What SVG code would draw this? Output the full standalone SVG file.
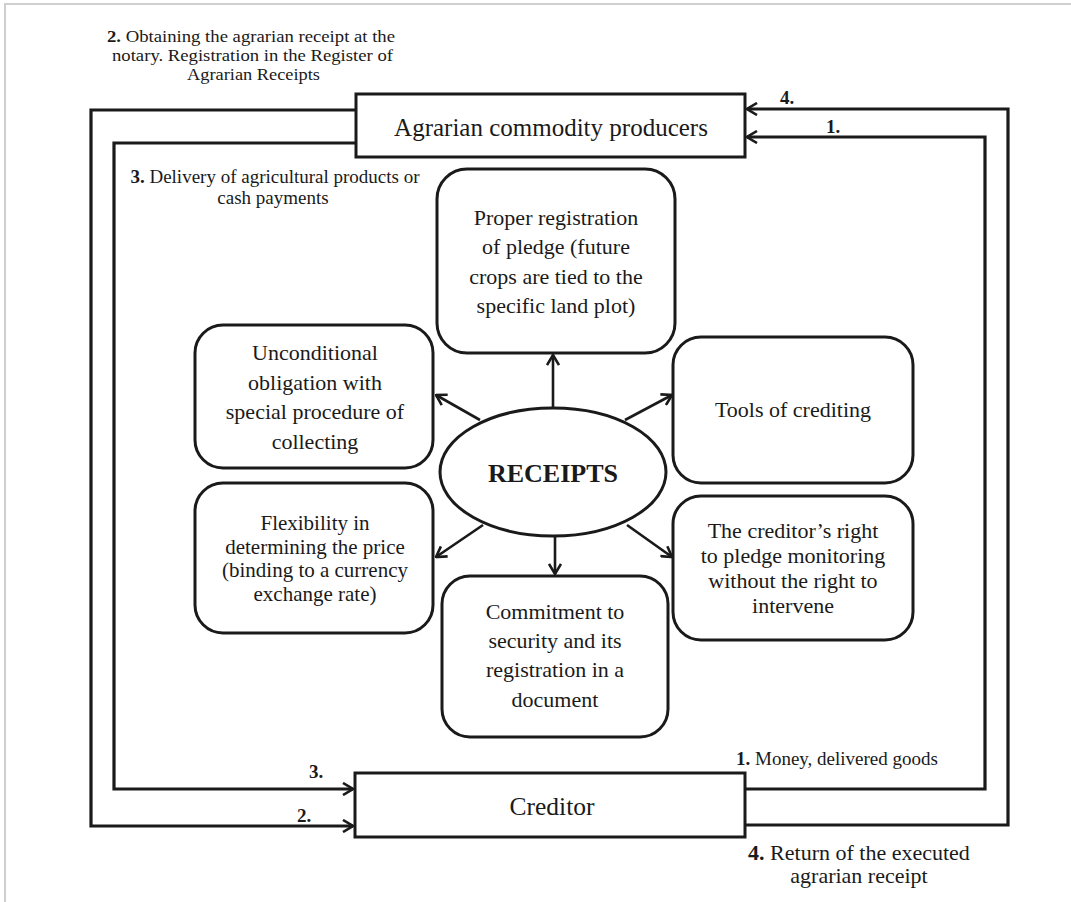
<svg xmlns="http://www.w3.org/2000/svg" width="1071" height="902" viewBox="0 0 1071 902">
<style>
text{font-family:"Liberation Serif","Times New Roman",serif;fill:#1a1a1a}
.box{fill:#fff;stroke:#1a1a1a;stroke-width:3}
.rbox{fill:#fff;stroke:#1a1a1a;stroke-width:3}
.conn{fill:none;stroke:#1a1a1a;stroke-width:3.2}
.spoke{fill:none;stroke:#1a1a1a;stroke-width:2.6}
.lbl{font-size:19px}
.node{font-size:22px;text-anchor:middle}
.num{font-weight:bold}
.n{font-weight:bold;font-size:19px}
</style>
<defs>
<marker id="ah" viewBox="0 0 12 14" refX="11" refY="7" markerWidth="12" markerHeight="14" markerUnits="userSpaceOnUse" orient="auto">
<path d="M1,1 L11,7 L1,13" fill="none" stroke="#1a1a1a" stroke-width="2.6"/>
</marker>
</defs>
<rect width="1071" height="902" fill="#fff"/>
<path d="M5,902 V4 H1071" fill="none" stroke="#cfcfcf" stroke-width="2"/>

<g id="connectors">
<path class="conn" d="M745,789 H985 V137 H747" marker-end="url(#ah)"/>
<path class="conn" d="M745,825 H1008 V109 H747" marker-end="url(#ah)"/>
<path class="conn" d="M356,110 H91 V826 H353" marker-end="url(#ah)"/>
<path class="conn" d="M356,143 H114 V789 H353" marker-end="url(#ah)"/>
<path class="spoke" d="M553,408 V355" marker-end="url(#ah)"/>
<path class="spoke" d="M555,537 V574" marker-end="url(#ah)"/>
<path class="spoke" d="M480,420 L436,395" marker-end="url(#ah)"/>
<path class="spoke" d="M483,525 L436,557" marker-end="url(#ah)"/>
<path class="spoke" d="M625,420 L672,395" marker-end="url(#ah)"/>
<path class="spoke" d="M627,525 L672,557" marker-end="url(#ah)"/>
</g>

<g id="labels">
<text x="107" y="42" font-size="17.5" textLength="288" lengthAdjust="spacingAndGlyphs"><tspan class="num">2.</tspan> Obtaining the agrarian receipt at the</text>
<text x="112" y="61" font-size="17.5" textLength="281" lengthAdjust="spacingAndGlyphs">notary. Registration in the Register of</text>
<text x="187" y="80" font-size="17.5" textLength="133" lengthAdjust="spacingAndGlyphs">Agrarian Receipts</text>
<text class="lbl" x="275" y="183" text-anchor="middle"><tspan class="num">3.</tspan> Delivery of agricultural products or</text>
<text class="lbl" x="273" y="204" text-anchor="middle">cash payments</text>
<text x="780" y="104" class="n">4.</text>
<text x="826" y="133" class="n">1.</text>
<text x="309" y="778" class="n">3.</text>
<text x="297" y="822" class="n">2.</text>
<text class="lbl" x="736" y="765"><tspan class="num">1.</tspan> Money, delivered goods</text>
<text x="859" y="860" font-size="22" text-anchor="middle"><tspan class="num">4.</tspan> Return of the executed</text>
<text x="859" y="883" font-size="22" text-anchor="middle">agrarian receipt</text>
</g>

<g id="producers">
<rect class="box" x="356" y="94" width="389" height="63"/>
<text x="551" y="136" font-size="25" text-anchor="middle">Agrarian commodity producers</text>
</g>

<g id="creditor">
<rect class="box" x="355" y="773" width="390" height="64"/>
<text x="552" y="815" font-size="25.5" text-anchor="middle">Creditor</text>
</g>

<g id="receipts">
<ellipse cx="553" cy="472" rx="113" ry="64" fill="#fff" stroke="#1a1a1a" stroke-width="3"/>
<text x="553" y="482" font-size="26" font-weight="bold" text-anchor="middle">RECEIPTS</text>
</g>

<g id="pledge">
<rect class="rbox" x="437" y="169" width="238" height="184" rx="30"/>
<text class="node" x="556"><tspan x="556" y="225">Proper registration</tspan><tspan x="556" y="254">of pledge (future</tspan><tspan x="556" y="284">crops are tied to the</tspan><tspan x="556" y="313">specific land plot)</tspan></text>
</g>

<g id="unconditional">
<rect class="rbox" x="195" y="325" width="238" height="143" rx="28"/>
<text class="node" x="315"><tspan x="315" y="360">Unconditional</tspan><tspan x="315" y="390">obligation with</tspan><tspan x="315" y="419">special procedure of</tspan><tspan x="315" y="449">collecting</tspan></text>
</g>

<g id="flexibility">
<rect class="rbox" x="195" y="483" width="238" height="150" rx="28"/>
<text class="node" x="315" style="font-size:21px"><tspan x="315" y="530">Flexibility in</tspan><tspan x="315" y="554">determining the price</tspan><tspan x="315" y="577">(binding to a currency</tspan><tspan x="315" y="601">exchange rate)</tspan></text>
</g>

<g id="tools">
<rect class="rbox" x="673" y="337" width="240" height="146" rx="28"/>
<text class="node" x="793" y="417">Tools of crediting</text>
</g>

<g id="monitoring">
<rect class="rbox" x="673" y="496" width="240" height="144" rx="28"/>
<text class="node" x="793"><tspan x="793" y="538">The creditor’s right</tspan><tspan x="793" y="563">to pledge monitoring</tspan><tspan x="793" y="588">without the right to</tspan><tspan x="793" y="613">intervene</tspan></text>
</g>

<g id="commitment">
<rect class="rbox" x="442" y="576" width="226" height="161" rx="28"/>
<text class="node" x="555"><tspan x="555" y="619">Commitment to</tspan><tspan x="555" y="648">security and its</tspan><tspan x="555" y="677">registration in a</tspan><tspan x="555" y="707">document</tspan></text>
</g>
</svg>
